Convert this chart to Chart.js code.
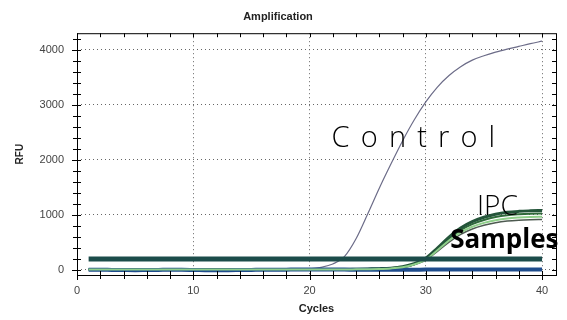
<!DOCTYPE html>
<html>
<head>
  <title>Amplification</title>
  <script src="https://cdn.jsdelivr.net/npm/chart.js"></script>
  <style>
    body { margin: 0; background: #fff; }
    #wrap { width: 567px; height: 320px; }
  </style>
</head>
<body>
  <div id="wrap"><canvas id="ampChart" width="567" height="320"></canvas></div>

  <script>
    // cycle numbers 1..40
    const cycles = [1,2,3,4,5,6,7,8,9,10,11,12,13,14,15,16,17,18,19,20,
                    21,22,23,24,25,26,27,28,29,30,31,32,33,34,35,36,37,38,39,40];

    const control = [0,0,0,0,0,0,0,0,0,0,0,0,0,0,0,0,0,0,3,12,
                     40,100,235,560,1010,1480,1920,2340,2720,3050,3320,3530,3690,3810,3890,3955,4010,4060,4110,4155];

    const ipc = [0,0,0,0,0,0,0,0,0,0,0,0,0,0,0,0,0,0,0,0,
                 0,0,0,5,10,15,25,50,105,205,390,590,755,870,950,1005,1040,1058,1068,1075];
    const sample1 = [0,0,0,0,0,0,0,0,0,0,0,0,0,0,0,0,0,0,0,0,
                     0,0,0,5,10,15,22,45,98,192,370,560,715,825,900,955,988,1005,1015,1020];
    const sample2 = [0,0,0,0,0,0,0,0,0,0,0,0,0,0,0,0,0,0,0,0,
                     0,0,0,3,6,10,20,42,92,180,350,528,675,778,848,898,930,946,955,960];
    const sample3 = [0,0,0,0,0,0,0,0,0,0,0,0,0,0,0,0,0,0,0,0,
                     0,0,0,2,5,8,18,38,85,170,330,500,640,738,805,852,882,898,906,910];

    const negatives = [-5,-5,-8,-10,-12,-10,-8,-5,-5,-8,-12,-15,-12,-10,-8,-5,-5,-3,0,0,
                       0,0,-2,-3,-5,-5,-5,-5,-3,-2,0,0,0,0,0,0,0,0,0,0];
    const threshold = 190;

    const yTicks = [0,200,400,600,800,1000,1200,1400,1600,1800,2000,2200,2400,2600,2800,3000,3200,3400,3600,3800,4000,4200];
    const xTicks = [0,2,4,6,8,10,12,14,16,18,20,22,24,26,28,30,32,34,36,38,40];
    const yMajor = [0, 1000, 2000, 3000, 4000];
    const xMajor = [0, 10, 20, 30, 40];

    const toXY = arr => arr.map((v, i) => ({ x: cycles[i], y: v }));

    // tick marks on all four sides of the frame + frame box + annotation texts
    const frameTicks = {
      id: 'frameTicks',
      afterDraw(chart) {
        const { ctx, chartArea: a, scales } = chart;
        ctx.save();
        ctx.strokeStyle = '#000';
        ctx.lineWidth = 1;
        ctx.strokeRect(a.left + 0.5, a.top + 0.5, a.right - a.left, a.bottom - a.top);
        ctx.beginPath();
        yTicks.forEach(v => {
          const y = Math.round(scales.y.getPixelForValue(v)) + 0.5;
          const major = yMajor.includes(v);
          ctx.moveTo(a.left - (major ? 5 : 4), y); ctx.lineTo(a.left + 4, y);
          ctx.moveTo(a.right - 4, y); ctx.lineTo(a.right, y);
        });
        xTicks.forEach(v => {
          const x = Math.round(scales.x.getPixelForValue(v)) + 0.5;
          const major = xMajor.includes(v);
          ctx.moveTo(x, a.bottom - 4); ctx.lineTo(x, a.bottom + (major ? 5 : 4));
          ctx.moveTo(x, a.top); ctx.lineTo(x, a.top + 4);
        });
        ctx.stroke();

        ctx.fillStyle = '#000';
        ctx.textBaseline = 'alphabetic';
        ctx.font = '300 29px "Open Sans"';
        ctx.letterSpacing = '1.8px';
        ctx.fillText('C o n t r o l', scales.x.getPixelForValue(21.9), scales.y.getPixelForValue(2230));
        ctx.letterSpacing = '0px';
        ctx.font = '300 28px "Open Sans"';
        ctx.fillText('IPC', scales.x.getPixelForValue(34.4), scales.y.getPixelForValue(1000));
        ctx.font = 'bold 26px "Open Sans"';
        ctx.fillText('Samples', scales.x.getPixelForValue(32.1), scales.y.getPixelForValue(400));
        ctx.restore();
      }
    };

    const yGridColor = c => (c.tick && yMajor.includes(c.tick.value)) ? '#666' : 'rgba(0,0,0,0)';
    const xGridColor = c => (c.tick && xMajor.includes(c.tick.value) && c.tick.value > 0) ? '#666' : 'rgba(0,0,0,0)';

    const chart = new Chart(document.getElementById('ampChart'), {
      type: 'line',
      data: {
        datasets: [
          { label: 'Threshold', data: cycles.map(c => ({ x: c, y: threshold })), borderColor: '#1c4c4a', borderWidth: 5, order: 0 },
          { label: 'Control', data: toXY(control), borderColor: '#6c6c88', borderWidth: 1.2, order: 5 },
          { label: 'IPC', data: toXY(ipc), borderColor: '#24553a', borderWidth: 3, order: 2 },
          { label: 'Sample 1', data: toXY(sample1), borderColor: '#2f6a3a', borderWidth: 2, order: 3 },
          { label: 'Sample 2', data: toXY(sample2), borderColor: '#8fcf8a', borderWidth: 2, order: 1 },
          { label: 'Sample 3', data: toXY(sample3), borderColor: '#4d5a50', borderWidth: 1.5, order: 4 },
          { label: 'Negatives', data: toXY(negatives), borderColor: '#1f4c8c', borderWidth: 4, order: 1 }
        ]
      },
      options: {
        responsive: false,
        animation: false,
        layout: { padding: { left: 0, right: 11, top: 0, bottom: 0 } },
        elements: {
          point: { radius: 0 },
          line: { cubicInterpolationMode: 'monotone' }
        },
        plugins: {
          legend: { display: false },
          tooltip: { enabled: false },
          title: {
            display: true,
            text: 'Amplification',
            color: '#222',
            font: { family: 'Liberation Sans', size: 11, weight: 'bold' },
            padding: { top: 10, bottom: 10 }
          }
        },
        scales: {
          x: {
            type: 'linear',
            min: 0,
            max: 41.2,
            afterFit: s => { s.height = 45; },
            afterBuildTicks: s => { s.ticks = xTicks.map(v => ({ value: v })); },
            ticks: {
              autoSkip: false,
              maxRotation: 0,
              padding: 9,
              color: '#444',
              font: { family: 'Liberation Sans', size: 11 },
              callback: v => xMajor.includes(v) ? String(v) : ''
            },
            grid: { color: xGridColor, drawTicks: false, lineWidth: 1 },
            border: { display: false, dash: [1, 3] },
            title: {
              display: true,
              text: 'Cycles',
              color: '#222',
              font: { family: 'Liberation Sans', size: 11, weight: 'bold' },
              padding: { top: 7 }
            }
          },
          y: {
            min: -100,
            max: 4300,
            afterFit: s => { s.width = 77; },
            afterBuildTicks: s => { s.ticks = yTicks.map(v => ({ value: v })); },
            ticks: {
              autoSkip: false,
              padding: 13,
              color: '#444',
              font: { family: 'Liberation Sans', size: 11 },
              callback: v => yMajor.includes(v) ? String(v) : ''
            },
            grid: { color: yGridColor, drawTicks: false, lineWidth: 1 },
            border: { display: false, dash: [1, 3] },
            title: {
              display: true,
              text: 'RFU',
              color: '#222',
              font: { family: 'Liberation Sans', size: 10, weight: 'bold' },
              padding: { top: 14 }
            }
          }
        }
      },
      plugins: [frameTicks]
    });
  </script>
</body>
</html>
